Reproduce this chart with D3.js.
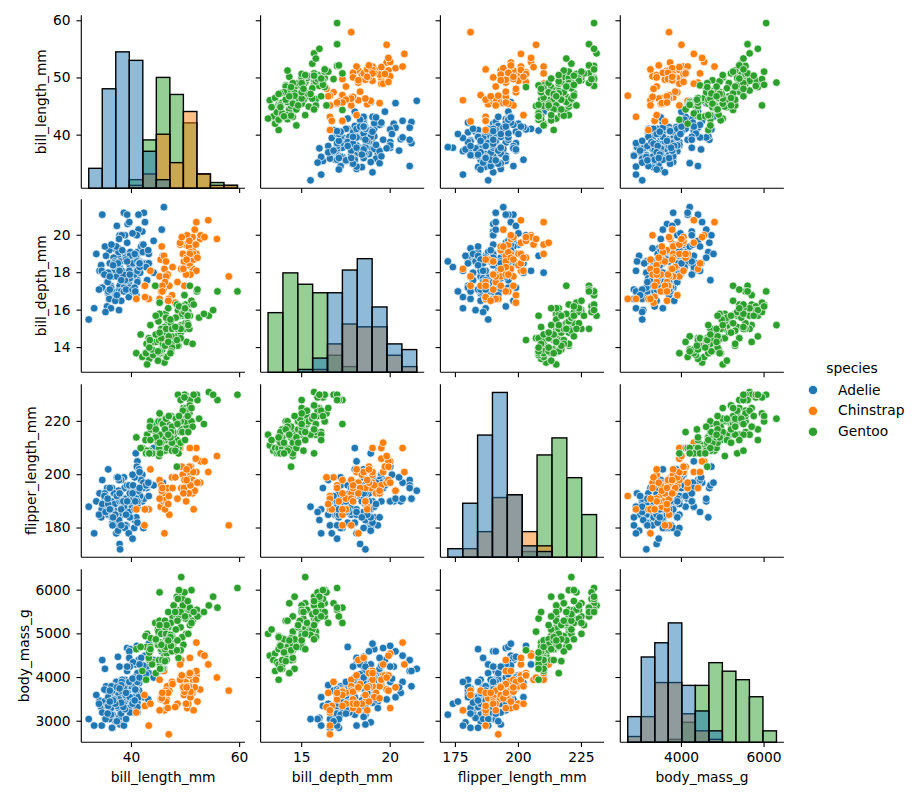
<!DOCTYPE html>
<html>
<head>
<meta charset="utf-8">
<script src="https://cdn.jsdelivr.net/npm/d3@7"></script>
<style>
  body { margin: 0; background: #fff; }
  text { font-family: "DejaVu Sans", sans-serif; font-size: 13.8px; fill: #000; }
</style>
</head>
<body>
<div id="chart"></div>
<script>
// each row: bill_length_mm, bill_depth_mm, flipper_length_mm, body_mass_g
const adelie = [
[39.1,18.7,181,3750],[39.5,17.4,186,3800],[40.3,18,195,3250],[36.7,19.3,193,3450],[39.3,20.6,190,3650],[38.9,17.8,181,3625],
[39.2,19.6,195,4675],[34.1,18.1,193,3475],[42,20.2,190,4250],[37.8,17.1,186,3300],[37.8,17.3,180,3700],[41.1,17.6,182,3200],
[38.6,21.2,191,3800],[34.6,21.1,198,4400],[36.6,17.8,185,3700],[38.7,19,195,3450],[42.5,20.7,197,4500],[34.4,18.4,184,3325],
[46,21.5,194,4200],[37.8,18.3,174,3400],[37.7,18.7,180,3600],[35.9,19.2,189,3800],[38.2,18.1,185,3950],[38.8,17.2,180,3800],
[35.3,18.9,187,3800],[40.6,18.6,183,3550],[40.5,17.9,187,3200],[37.9,18.6,172,3150],[40.5,18.9,180,3950],[39.5,16.7,178,3250],
[37.2,18.1,178,3900],[39.5,17.8,188,3300],[40.9,18.9,184,3900],[36.4,17,195,3325],[39.2,21.1,196,4150],[38.8,20,190,3950],
[42.2,18.5,180,3550],[37.6,19.3,181,3300],[39.8,19.1,184,4650],[36.5,18,182,3150],[40.8,18.4,195,3900],[36,18.5,186,3100],
[44.1,19.7,196,4400],[37,16.9,185,3000],[39.6,18.8,190,4600],[41.1,19,182,3425],[37.5,18.9,179,2975],[36,17.9,190,3450],
[42.3,21.2,191,4150],[39.6,17.7,186,3500],[40.1,18.9,188,4300],[35,17.9,190,3450],[42,19.5,200,4050],[34.5,18.1,187,2900],
[41.4,18.6,191,3700],[39,17.5,186,3550],[40.6,18.8,193,3800],[36.5,16.6,181,2850],[37.6,19.1,194,3750],[35.7,16.9,185,3150],
[41.3,21.1,195,4400],[37.6,17,185,3600],[41.1,18.2,192,4050],[36.4,17.1,184,2850],[41.6,18,192,3950],[35.5,16.2,195,3350],
[41.1,19.1,188,4100],[35.9,16.6,190,3050],[41.8,19.4,198,4450],[33.5,19,190,3600],[39.7,18.4,190,3900],[39.6,17.2,196,3550],
[45.8,18.9,197,4150],[35.5,17.5,190,3700],[42.8,18.5,195,4250],[40.9,16.8,191,3700],[37.2,19.4,184,3900],[36.2,16.1,187,3550],
[42.1,19.1,195,4000],[34.6,17.2,189,3200],[42.9,17.6,196,4700],[36.7,18.8,187,3800],[35.1,19.4,193,4200],[37.3,17.8,191,3350],
[41.3,20.3,194,3550],[36.3,19.5,190,3800],[36.9,18.6,189,3500],[38.3,19.2,189,3950],[38.9,18.8,190,3600],[35.7,18,202,3550],
[41.1,18.1,205,4300],[34,17.1,185,3400],[39.6,18.1,186,4450],[36.2,17.3,187,3300],[40.8,18.9,208,4300],[38.1,18.6,190,3700],
[40.3,18.5,196,4350],[33.1,16.1,178,2900],[43.2,18.5,192,4100],[35,17.9,192,3725],[41,20,203,4725],[37.7,16,183,3075],
[37.8,20,190,4250],[37.9,18.6,193,2925],[39.7,18.9,184,3550],[38.6,17.2,199,3750],[38.2,20,190,3900],[38.1,17,181,3175],
[43.2,19,197,4775],[38.1,16.5,198,3825],[45.6,20.3,191,4600],[39.7,17.7,193,3200],[42.2,19.5,197,4275],[39.6,20.7,191,3900],
[42.7,18.3,196,4075],[38.6,17,188,2900],[37.3,20.5,199,3775],[35.7,17,189,3350],[41.1,18.6,189,3325],[36.2,17.2,187,3150],
[37.7,19.8,198,3500],[40.2,17,176,3450],[41.4,18.5,202,3875],[35.2,15.9,186,3050],[40.6,19,199,4000],[38.8,17.6,191,3275],
[41.5,18.3,195,4300],[39,17.1,191,3050],[44.1,18,210,4000],[38.5,17.9,190,3325],[43.1,19.2,197,3500],[36.8,18.5,193,3500],
[37.5,18.5,199,4475],[38.1,17.6,187,3425],[41.1,17.5,190,3900],[35.6,17.5,191,3175],[40.2,20.1,200,3975],[37,16.5,185,3400],
[39.7,17.9,193,4250],[40.2,17.1,193,3400],[40.6,17.2,187,3475],[32.1,15.5,188,3050],[40.7,17,190,3725],[37.3,16.8,192,3000],
[39,18.7,185,3650],[39.2,18.6,190,4250],[36.6,18.4,184,3475],[36,17.8,195,3450],[37.8,18.1,193,3750],[36,17.1,187,3700],
[41.5,18.5,201,4000]];

const chinstrap = [
[46.5,17.9,192,3500],[50,19.5,196,3900],[51.3,19.2,193,3650],[45.4,18.7,188,3525],[52.7,19.8,197,3725],[45.2,17.8,198,3950],
[46.1,18.2,178,3250],[51.3,18.2,197,3750],[46,18.9,195,4150],[51.3,19.9,198,3700],[46.6,17.8,193,3800],[51.7,20.3,194,3775],
[47,17.3,185,3700],[52,18.1,201,4050],[45.9,17.1,190,3575],[50.5,19.6,201,4050],[50.3,20,197,3300],[58,17.8,181,3700],
[46.4,18.6,190,3450],[49.2,18.2,195,4400],[42.4,17.3,181,3600],[48.5,17.5,191,3400],[43.2,16.6,187,2900],[50.6,19.4,193,3800],
[46.7,17.9,195,3300],[52,19,197,4150],[50.5,18.4,200,3400],[49.5,19,200,3800],[46.4,17.8,191,3700],[52.8,20,205,4550],
[40.9,16.6,187,3200],[54.2,20.8,201,4300],[42.5,16.7,187,3350],[51,18.8,203,4100],[49.7,18.6,195,3600],[47.5,16.8,199,3900],
[47.6,18.3,195,3850],[52,20.7,210,4800],[46.9,16.6,192,2700],[53.5,19.9,205,4500],[49,19.5,210,3950],[46.2,17.5,187,3650],
[50.9,19.1,196,3550],[45.5,17,196,3500],[50.9,17.9,196,3675],[50.8,18.5,201,4450],[50.1,17.9,190,3400],[49,19.6,212,4300],
[51.5,18.7,187,3250],[49.8,17.3,198,3675],[48.1,16.4,199,3325],[51.4,19,201,3950],[45.7,17.3,193,3600],[50.7,19.7,203,4050],
[42.5,17.3,187,3350],[52.2,18.8,197,3450],[45.2,16.6,191,3250],[49.3,19.9,203,4050],[50.2,18.8,202,3800],[45.6,19.4,194,3525],
[51.9,19.5,206,3950],[46.8,16.5,189,3650],[45.7,17,195,3650],[55.8,19.8,207,4000],[43.5,18.1,202,3400],[49.6,18.2,193,3775],
[50.8,19,210,4100],[50.2,18.7,198,3775]];

const gentoo = [
[46.1,13.2,211,4500],[50,16.3,230,5700],[48.7,14.1,210,4450],[50,15.2,218,5700],[47.6,14.5,215,5400],[46.5,13.5,210,4550],
[45.4,14.6,211,4800],[46.7,15.3,219,5200],[43.3,13.4,209,4400],[46.8,15.4,215,5150],[40.9,13.7,214,4650],[49,16.1,216,5550],
[45.5,13.7,214,4650],[48.4,14.6,213,5850],[45.8,14.6,210,4200],[49.3,15.7,217,5850],[42,13.5,210,4150],[49.2,15.2,221,6300],
[46.2,14.5,209,4800],[48.7,15.1,222,5350],[50.2,14.3,218,5700],[45.1,14.5,215,5000],[46.5,14.5,213,4400],[46.3,15.8,215,5050],
[42.9,13.1,215,5000],[46.1,15.1,215,5100],[44.5,14.3,216,4100],[47.8,15,215,5650],[48.2,14.3,210,4600],[50,15.3,220,5550],
[47.3,15.3,222,5250],[42.8,14.2,209,4700],[45.1,14.5,207,5050],[59.6,17,230,6050],[49.1,14.8,220,5150],[48.4,16.3,220,5400],
[42.6,13.7,213,4950],[44.4,17.3,219,5250],[44,13.6,208,4350],[48.7,15.7,208,5350],[42.7,13.7,208,3950],[49.6,16,225,5700],
[45.3,13.7,210,4300],[49.6,15,216,4750],[50.5,15.9,222,5550],[43.6,13.9,217,4900],[45.5,13.9,210,4200],[50.5,15.9,225,5400],
[44.9,13.3,213,5100],[45.2,15.8,215,5300],[46.6,14.2,210,4850],[48.5,14.1,220,5300],[45.1,14.4,210,4400],[50.1,15,225,5000],
[46.5,14.4,217,4900],[45,15.4,220,5050],[43.8,13.9,208,4300],[45.5,15,220,5000],[43.2,14.5,208,4450],[50.4,15.3,224,5550],
[45.3,13.8,208,4200],[46.2,14.9,221,5300],[45.7,13.9,214,4400],[54.3,15.7,231,5650],[45.8,14.2,219,4700],[49.8,16.8,230,5700],
[46.2,14.4,214,4650],[49.5,16.2,229,5800],[43.5,14.2,220,4700],[50.7,15,223,5550],[47.7,15,216,4750],[46.4,15.6,221,5000],
[48.2,15.6,221,5100],[46.5,14.8,217,5200],[46.4,15,216,4700],[48.6,16,230,5800],[47.5,14.2,209,4600],[51.1,16.3,220,6000],
[45.2,13.8,215,4750],[45.2,16.4,223,5950],[49.1,14.5,212,4625],[52.5,15.6,221,5450],[47.4,14.6,212,4725],[50,15.9,224,5350],
[44.9,13.8,212,4750],[50.8,17.3,228,5600],[43.4,14.4,218,4600],[51.3,14.2,218,5300],[47.5,14,212,4875],[52.1,17,230,5550],
[47.5,15,218,4950],[52.2,17.1,228,5400],[45.5,14.5,212,4750],[49.5,16.1,224,5650],[44.5,14.7,214,4850],[50.8,15.7,226,5200],
[49.4,15.8,216,4925],[46.9,14.6,222,4875],[48.4,14.4,203,4625],[51.1,16.5,225,5250],[48.5,15,219,4850],[55.9,17,228,5600],
[47.2,15.5,215,4975],[49.1,15,228,5500],[47.3,13.8,216,4725],[46.8,16.1,215,5500],[41.7,14.7,210,4700],[53.4,15.8,219,5500],
[43.3,14,208,4575],[48.1,15.1,209,5500],[50.5,15.2,216,5000],[49.8,15.9,229,5950],[43.5,15.2,213,4650],[51.5,16.3,230,5500],
[46.2,14.1,217,4375],[55.1,16,230,5850],[44.5,15.7,217,4875],[48.8,16.2,222,6000],[47.2,13.7,214,4925],[46.8,14.3,215,4850],
[50.4,15.7,222,5750],[45.2,14.8,212,5200],[49.9,16.1,213,5400]];

const speciesNames = ["Adelie", "Chinstrap", "Gentoo"];
const speciesRows = [adelie, chinstrap, gentoo];
const speciesColors = ["#1f77b4", "#ff7f0e", "#2ca02c"];

const variables = ["bill_length_mm", "bill_depth_mm", "flipper_length_mm", "body_mass_g"];
const xTicks = [[40, 60], [15, 20], [175, 200, 225], [4000, 6000]];
const yTicks = [[40, 50, 60], [14, 16, 18, 20], [180, 200, 220], [3000, 4000, 5000, 6000]];
const histBins = [11, 10, 10, 11];

const width = 917, height = 800;
const panelW = 163.6, panelH = 173;
const colLeft = [81.3, 260.6, 440.4, 620.3];
const rowTop = [15.2, 199.3, 384.2, 569.2];
const yLabelX = [41, 41, 31, 24];
const tickLen = 4.86;

const allRows = speciesRows.flat();

// same 5% margin on each side as matplotlib
const extents = variables.map((v, k) => {
  const [lo, hi] = d3.extent(allRows, (r) => r[k]);
  const pad = (hi - lo) * 0.05;
  return [lo - pad, hi + pad];
});
const xScales = variables.map((v, k) =>
  d3.scaleLinear().domain(extents[k]).range([0, panelW])
);
const yScales = variables.map((v, k) =>
  d3.scaleLinear().domain(extents[k]).range([panelH, 0])
);

// histogram counts, all bins share the edges of the whole column
const histData = variables.map((v, k) => {
  const [lo, hi] = d3.extent(allRows, (r) => r[k]);
  const n = histBins[k];
  const step = (hi - lo) / n;
  const edges = d3.range(1, n).map((i) => lo + i * step);
  const binner = d3.bin().domain([lo, hi]).thresholds(edges);
  return speciesRows.map((rows) =>
    binner(rows.map((r) => r[k])).map((b, i) => ({
      x0: lo + i * step,
      x1: lo + (i + 1) * step,
      count: b.length,
    }))
  );
});
const maxCount = d3.max(histData.flat(2), (b) => b.count);
const countY = d3.scaleLinear().domain([0, maxCount * 1.05]).range([panelH, 0]);

const svg = d3
  .select("#chart")
  .append("svg")
  .attr("width", width)
  .attr("height", height);

variables.forEach((rowVar, i) => {
  variables.forEach((colVar, j) => {
    const g = svg
      .append("g")
      .attr("transform", `translate(${colLeft[j]},${rowTop[i]})`);
    const x = xScales[j];
    const y = yScales[i];

    if (i === j) {
      // gentoo first, adelie ends on top
      [2, 1, 0].forEach((s) => {
        g.append("g")
          .selectAll("rect")
          .data(histData[i][s])
          .join("rect")
          .attr("x", (d) => x(d.x0))
          .attr("width", (d) => x(d.x1) - x(d.x0))
          .attr("y", (d) => countY(d.count))
          .attr("height", (d) => panelH - countY(d.count))
          .attr("fill", speciesColors[s])
          .attr("fill-opacity", 0.5)
          .attr("stroke", "#000")
          .attr("stroke-width", 1.39);
      });
    } else {
      speciesRows.forEach((rows, s) => {
        g.append("g")
          .selectAll("circle")
          .data(rows)
          .join("circle")
          .attr("cx", (d) => x(d[j]))
          .attr("cy", (d) => y(d[i]))
          .attr("r", 3.85)
          .attr("fill", speciesColors[s])
          .attr("stroke", "#fff")
          .attr("stroke-width", 0.7);
      });
    }

    const xAxis = d3
      .axisBottom(x)
      .tickValues(xTicks[j])
      .tickSizeInner(tickLen)
      .tickSizeOuter(0)
      .tickPadding(4.86)
      .offset(0)
      .tickFormat(i === 3 ? d3.format("d") : "");
    const yAxis = d3
      .axisLeft(y)
      .tickValues(yTicks[i])
      .tickSizeInner(tickLen)
      .tickSizeOuter(0)
      .tickPadding(5.8)
      .offset(0)
      .tickFormat(j === 0 ? d3.format("d") : "");

    const gx = g.append("g").attr("transform", `translate(0,${panelH})`).call(xAxis);
    const gy = g.append("g").call(yAxis);
    [gx, gy].forEach((a) => {
      a.selectAll("path,line").attr("stroke", "#000").attr("stroke-width", 1.11);
      a.selectAll("text").style("font-size", "13.8px").style("font-family", '"DejaVu Sans", sans-serif').attr("fill", "#000");
    });
  });
});

// axis titles
variables.forEach((v, k) => {
  svg
    .append("text")
    .attr("x", colLeft[k] + panelW / 2)
    .attr("y", 782)
    .attr("text-anchor", "middle")
    .text(v);
  svg
    .append("text")
    .attr("transform", `translate(${yLabelX[k]},${rowTop[k] + panelH / 2}) rotate(-90)`)
    .attr("dy", "0.35em")
    .attr("text-anchor", "middle")
    .text(v);
});

// legend
const legend = svg.append("g");
legend
  .append("text")
  .attr("x", 852)
  .attr("y", 373)
  .attr("text-anchor", "middle")
  .text("species");
speciesNames.forEach((name, s) => {
  const ly = 390 + s * 20.9;
  legend
    .append("circle")
    .attr("cx", 813)
    .attr("cy", ly)
    .attr("r", 4.6)
    .attr("fill", speciesColors[s])
    .attr("stroke", "#fff")
    .attr("stroke-width", 0.7);
  legend
    .append("text")
    .attr("x", 838)
    .attr("y", ly + 4.5)
    .text(name);
});
</script>
</body>
</html>
